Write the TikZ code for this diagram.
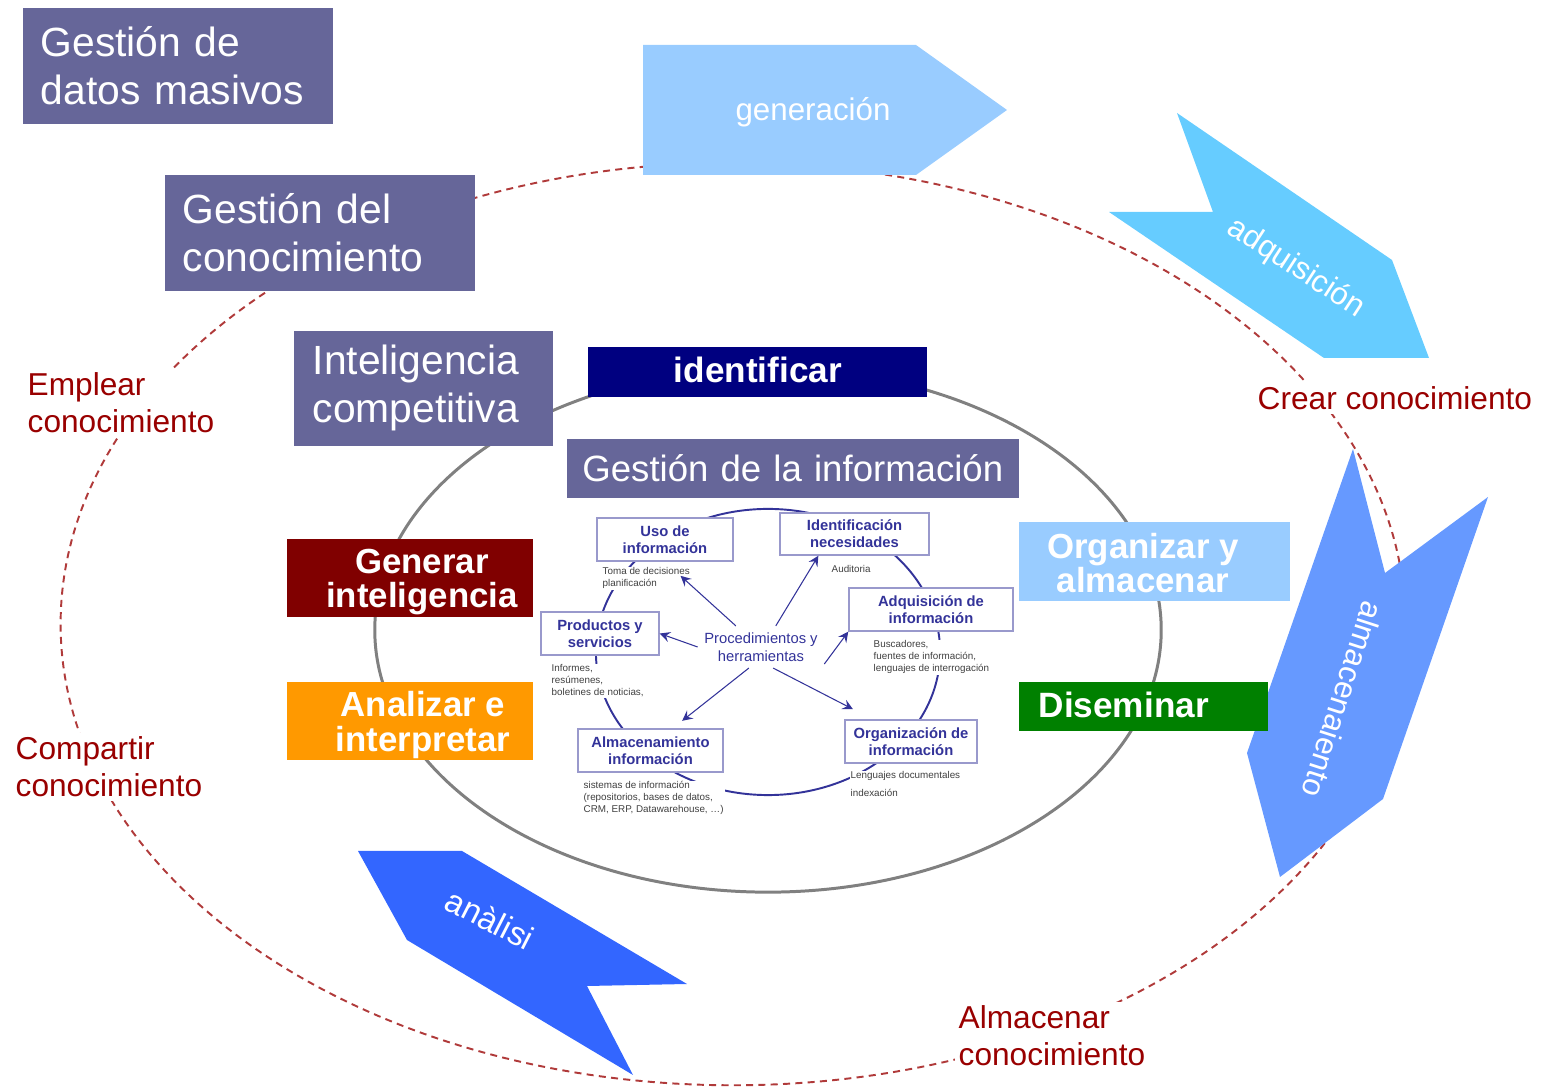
\documentclass[tikz,border=0pt]{standalone}
\usepackage{fontspec}
\setmainfont{Liberation Sans}
\usepackage{tikz}
\usetikzlibrary{arrows}

\definecolor{levelpurple}{HTML}{666699}
\definecolor{navybox}{HTML}{000080}
\definecolor{maroonbox}{HTML}{800000}
\definecolor{orangebox}{HTML}{FF9900}
\definecolor{paleblue}{HTML}{99CCFF}
\definecolor{greenbox}{HTML}{008000}
\definecolor{skyblue}{HTML}{66CCFF}
\definecolor{midblue}{HTML}{6699FF}
\definecolor{strongblue}{HTML}{3366FF}
\definecolor{knowred}{HTML}{990000}
\definecolor{loopred}{HTML}{B03A3A}
\definecolor{ringgray}{HTML}{808080}
\definecolor{infoblue}{HTML}{333399}
\definecolor{infoframe}{HTML}{9999CC}
\definecolor{notegray}{HTML}{404040}

\begin{document}
\begin{tikzpicture}[x=0.01cm, y=-0.01cm,
    levelbox/.style={fill=levelpurple, text=white, anchor=north west, align=left,
        inner xsep=0.18cm, inner ysep=0pt, font=\fontsize{11.6}{13.7}\selectfont},
    stagetext/.style={text=white, align=center, inner sep=0pt,
        font=\bfseries\fontsize{9.9}{9.7}\selectfont},
    knowlabel/.style={text=knowred, fill=white, anchor=north west, align=left,
        inner sep=0.04cm, font=\fontsize{9}{10.5}\selectfont},
    flowtext/.style={text=white, font=\fontsize{8.9}{10}\selectfont},
    infobox/.style={draw=infoframe, line width=0.4pt, fill=white, text=infoblue,
        align=center, inner sep=0pt, font=\bfseries\fontsize{4.2}{4.8}\selectfont},
    infonote/.style={fill=white, text=notegray, anchor=north west, align=left,
        inner sep=0.01cm, font=\fontsize{2.8}{3.4}\selectfont},
    pointer/.style={->, >=stealth, draw=infoblue, line width=0.3pt}]
    \useasboundingbox (0,0) rectangle (1542,1089);
    % the three cycles
    \draw[loopred, line width=0.55pt, dash pattern=on 2pt off 1.5pt] (733,624) ellipse [x radius=6.72cm, y radius=4.61cm];
    \draw[ringgray, line width=0.85pt] (768,630) ellipse [x radius=3.93cm, y radius=2.62cm];
    \draw[infoblue, line width=0.55pt] (768,652) ellipse [x radius=1.72cm, y radius=1.43cm];
    % data flow arrows
    \fill[paleblue] (643,45) -- (916,45) -- (1007,110) -- (916,175) -- (643,175) -- cycle;
    \fill[skyblue] (1177,113) -- (1392,260) -- (1429,358) -- (1324,358) -- (1109,212) -- (1213,212) -- cycle;
    \fill[midblue] (1353,449) -- (1385,573) -- (1488,497) -- (1383,799) -- (1280,877) -- (1247,753) -- cycle;
    \fill[strongblue] (358,851) -- (462,851) -- (687,984) -- (587,986) -- (633,1075) -- (407,940) -- cycle;
    \node[flowtext] (generacion) at (813,112) {generación};
    \node[flowtext, rotate=-33] (adquisicion) at (1296,268) {adquisición};
    \node[flowtext, rotate=-108] (almacenaiento) at (1343,700) {almacenaiento};
    \node[flowtext, rotate=-27, font=\fontsize{9.4}{10}\selectfont] (analisi) at (490,919) {anàlisi};
    % management levels
    \node[levelbox, text width=2.74cm, minimum height=1.16cm] (datos) at (22,7) {Gestión de\\datos masivos};
    \node[levelbox, text width=2.74cm, minimum height=1.16cm] (conocimiento) at (164,174) {Gestión del\\conocimiento};
    \node[levelbox, text width=2.21cm, minimum height=1.15cm, inner xsep=0.19cm] (inteligencia) at (293,330) {Inteligencia\\competitiva};
    \node[levelbox, text width=4.52cm, minimum height=0.59cm, inner xsep=0pt, align=center,
        font=\fontsize{10.4}{12}\selectfont] (informacion) at (566,438) {Gestión de la información};
    % stages of the inner cycle
    \fill[navybox] (588,347) rectangle (927,397);
    \fill[maroonbox] (287,539) rectangle (533,617);
    \fill[orangebox] (287,682) rectangle (533,760);
    \fill[paleblue] (1019,522) rectangle (1290,601);
    \fill[greenbox] (1019,682) rectangle (1268,731);
    \node[stagetext, font=\bfseries\fontsize{10}{11}\selectfont] (identificar) at (758,370) {identificar};
    \node[stagetext] (generar) at (422,582) {Generar\\inteligencia};
    \node[stagetext] (analizar) at (423,725) {Analizar e\\interpretar};
    \node[stagetext] (organizar) at (1143,563.5) {Organizar y\\almacenar};
    \node[stagetext, anchor=west, font=\bfseries\fontsize{10}{11}\selectfont] (diseminar) at (1038,705) {Diseminar};
    % knowledge steps
    \node[knowlabel] (emplear) at (23,368) {Emplear\\conocimiento};
    \node[knowlabel] (compartir) at (11,732) {Compartir\\conocimiento};
    \node[knowlabel] (crear) at (1253,382) {Crear conocimiento};
    \node[knowlabel] (almacenar) at (954,1001) {Almacenar\\conocimiento};
    % information management cycle
    \node[infobox, minimum width=1.36cm, minimum height=0.43cm] (uso) at (665,539.5) {Uso de\\información};
    \node[infobox, minimum width=1.49cm, minimum height=0.42cm] (necesidades) at (854.5,534) {Identificación\\necesidades};
    \node[infobox, minimum width=1.64cm, minimum height=0.43cm] (adquisicioninfo) at (931,609.5) {Adquisición de\\información};
    \node[infobox, minimum width=1.32cm, minimum height=0.43cm] (organizacion) at (911,741.5) {Organización de\\información};
    \node[infobox, minimum width=1.45cm, minimum height=0.43cm] (almacenamiento) at (650.5,750.5) {Almacenamiento\\información};
    \node[infobox, minimum width=1.18cm, minimum height=0.43cm] (productos) at (600,633.5) {Productos y\\servicios};
    \node[infonote] (toma) at (601,566) {Toma de decisiones\\planificación};
    \node[infonote] (informes) at (550,663) {Informes,\\resúmenes,\\boletines de noticias,};
    \node[infonote] (sistemas) at (582,780) {sistemas de información\\(repositorios, bases de datos,\\CRM, ERP, Datawarehouse, …)};
    \node[infonote] (auditoria) at (830,564) {Auditoria};
    \node[infonote] (buscadores) at (872,639) {Buscadores,\\fuentes de información,\\lenguajes de interrogación};
    \node[infonote] (lenguajes) at (849,770) {Lenguajes documentales\\[0.06cm]indexación};
    \node[text=infoblue, align=center, inner sep=0.06cm, font=\fontsize{4.2}{5.1}\selectfont] (proc) at (761,647) {Procedimientos y\\herramientas};
    \draw[pointer, shorten >=0.21cm] (proc.140) -- (uso.south);
    \draw[pointer] (proc.west) -- (productos.east);
    \draw[pointer, shorten >=0.12cm] (proc.-120) -- (almacenamiento.45);
    \draw[pointer] (proc.55) -- (necesidades.211);
    \draw[pointer] (proc.-15) -- (adquisicioninfo.south west);
    \draw[pointer, shorten >=0.22cm] (proc.-60) -- (organizacion.150);
\end{tikzpicture}
\end{document}
